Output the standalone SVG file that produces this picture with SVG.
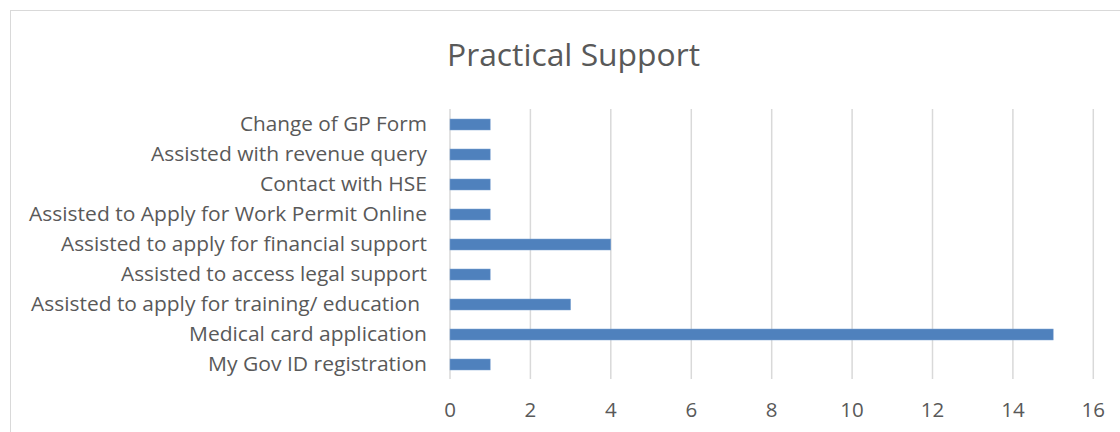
<svg xmlns="http://www.w3.org/2000/svg" width="1120" height="432" viewBox="0 0 1120 432">
<style>
.lbl{font-family:"Open Sans","Liberation Sans",sans-serif;font-size:20.5px;fill:#595959;text-anchor:end}
.tick{font-family:"Open Sans","Liberation Sans",sans-serif;font-size:20.5px;fill:#595959;text-anchor:middle}
.title{font-family:"Open Sans","Liberation Sans",sans-serif;font-size:31px;fill:#595959;text-anchor:middle}
.grid{stroke:#d9d9d9;stroke-width:1.5}
.bar{fill:#4f81bd;stroke:#7da3d1;stroke-width:0.5}
</style>
<rect x="0" y="0" width="1120" height="432" fill="#ffffff"/>
<rect x="10.5" y="10.5" width="1130" height="440" fill="none" stroke="#d9d9d9" stroke-width="1"/>
<text class="title" x="573.5" y="66" textLength="253" lengthAdjust="spacingAndGlyphs">Practical Support</text>
<g id="grid">
<line class="grid" x1="450" y1="109" x2="450" y2="379"/>
<line class="grid" x1="530.4" y1="109" x2="530.4" y2="379"/>
<line class="grid" x1="610.8" y1="109" x2="610.8" y2="379"/>
<line class="grid" x1="691.3" y1="109" x2="691.3" y2="379"/>
<line class="grid" x1="771.7" y1="109" x2="771.7" y2="379"/>
<line class="grid" x1="852.1" y1="109" x2="852.1" y2="379"/>
<line class="grid" x1="932.5" y1="109" x2="932.5" y2="379"/>
<line class="grid" x1="1012.9" y1="109" x2="1012.9" y2="379"/>
<line class="grid" x1="1093.3" y1="109" x2="1093.3" y2="379"/>
</g>
<g id="ticks">
<text class="tick" x="450" y="417">0</text>
<text class="tick" x="530.4" y="417">2</text>
<text class="tick" x="610.8" y="417">4</text>
<text class="tick" x="691.3" y="417">6</text>
<text class="tick" x="771.7" y="417">8</text>
<text class="tick" x="852.1" y="417">10</text>
<text class="tick" x="932.5" y="417">12</text>
<text class="tick" x="1012.9" y="417">14</text>
<text class="tick" x="1093.3" y="417">16</text>
</g>
<g id="bars">
<rect class="bar" x="450" y="119" width="40.2" height="11"/>
<rect class="bar" x="450" y="149" width="40.2" height="11"/>
<rect class="bar" x="450" y="179" width="40.2" height="11"/>
<rect class="bar" x="450" y="209" width="40.2" height="11"/>
<rect class="bar" x="450" y="239" width="160.8" height="11"/>
<rect class="bar" x="450" y="269" width="40.2" height="11"/>
<rect class="bar" x="450" y="299" width="120.6" height="11"/>
<rect class="bar" x="450" y="329" width="603.2" height="11"/>
<rect class="bar" x="450" y="359" width="40.2" height="11"/>
</g>
<g id="labels">
<text class="lbl" x="427" y="131" textLength="187" lengthAdjust="spacingAndGlyphs">Change of GP Form</text>
<text class="lbl" x="427" y="161" textLength="276" lengthAdjust="spacingAndGlyphs">Assisted with revenue query</text>
<text class="lbl" x="427" y="191" textLength="167" lengthAdjust="spacingAndGlyphs">Contact with HSE</text>
<text class="lbl" x="427" y="221" textLength="398" lengthAdjust="spacingAndGlyphs">Assisted to Apply for Work Permit Online</text>
<text class="lbl" x="427" y="251" textLength="366" lengthAdjust="spacingAndGlyphs">Assisted to apply for financial support</text>
<text class="lbl" x="427" y="281" textLength="306" lengthAdjust="spacingAndGlyphs">Assisted to access legal support</text>
<text class="lbl" x="420" y="311" textLength="389" lengthAdjust="spacingAndGlyphs">Assisted to apply for training/ education</text>
<text class="lbl" x="427" y="341" textLength="238" lengthAdjust="spacingAndGlyphs">Medical card application</text>
<text class="lbl" x="427" y="371" textLength="219" lengthAdjust="spacingAndGlyphs">My Gov ID registration</text>
</g>
</svg>
